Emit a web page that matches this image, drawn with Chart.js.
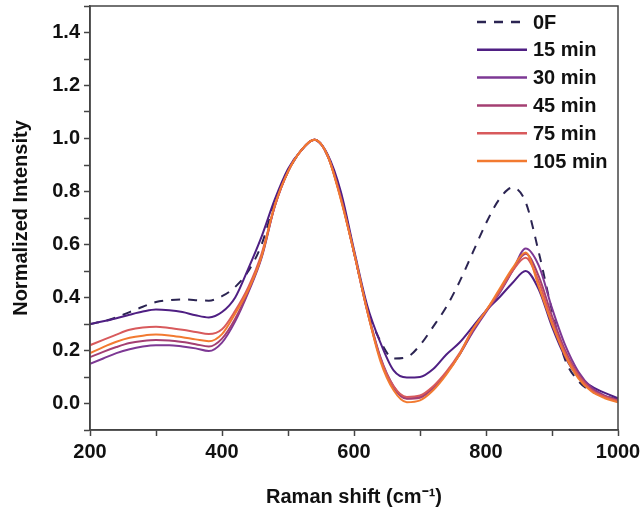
<!DOCTYPE html>
<html>
<head>
<meta charset="utf-8">
<script src="https://cdn.jsdelivr.net/npm/chart.js@4"></script>
<style>
  html, body { margin: 0; padding: 0; background: #fff; }
  #wrap { width: 644px; height: 516px; }
</style>
</head>
<body>
<div id="wrap"><canvas id="raman-chart" width="644" height="516"></canvas></div>
<script>
// Raman shift positions (cm-1), one reading every 20
const shifts = [
  200, 220, 240, 260, 280, 300, 320, 340, 360, 380,
  400, 420, 440, 460, 480, 500, 520, 540, 560, 580,
  600, 620, 640, 660, 680, 700, 720, 740, 760, 780,
  800, 820, 840, 860, 880, 900, 920, 940, 960, 980,
  1000,
];

const labels = ['0F', '15 min', '30 min', '45 min', '75 min', '105 min'];
const colors = ['#2b2452', '#4f1f83', '#7d3894', '#a43f72', '#d85a5c', '#f27a30'];

const int0F = [
  0.30, 0.31, 0.325, 0.345, 0.365, 0.383, 0.39, 0.393, 0.39, 0.388,
  0.405, 0.44, 0.50, 0.60, 0.76, 0.875, 0.955, 0.995, 0.935, 0.79,
  0.57, 0.36, 0.235, 0.17, 0.175, 0.22, 0.29, 0.365, 0.46, 0.57,
  0.68, 0.77, 0.815, 0.76, 0.57, 0.35, 0.165, 0.085, 0.045, 0.028,
  0.015,
];
const int15 = [
  0.30, 0.31, 0.322, 0.335, 0.347, 0.355, 0.352, 0.345, 0.333, 0.325,
  0.345, 0.40, 0.51, 0.63, 0.77, 0.885, 0.955, 0.995, 0.94, 0.80,
  0.58, 0.37, 0.23, 0.125, 0.098, 0.10, 0.13, 0.185, 0.23, 0.29,
  0.35, 0.40, 0.455, 0.50, 0.43, 0.29, 0.175, 0.10, 0.065, 0.04,
  0.02,
];
const int30 = [
  0.15, 0.17, 0.19, 0.205, 0.215, 0.22, 0.22, 0.215, 0.208, 0.198,
  0.23, 0.31, 0.42, 0.55, 0.745, 0.875, 0.955, 0.995, 0.935, 0.78,
  0.57, 0.355, 0.175, 0.065, 0.02, 0.025, 0.06, 0.115, 0.185, 0.27,
  0.345, 0.415, 0.50, 0.585, 0.52, 0.36, 0.22, 0.12, 0.06, 0.03,
  0.012,
];
const int45 = [
  0.175, 0.195, 0.213, 0.228, 0.236, 0.24, 0.238, 0.232, 0.224, 0.215,
  0.245, 0.32, 0.425, 0.555, 0.745, 0.875, 0.955, 0.995, 0.935, 0.775,
  0.57, 0.35, 0.17, 0.06, 0.018, 0.022, 0.058, 0.115, 0.185, 0.275,
  0.35, 0.42, 0.50, 0.565, 0.48, 0.33, 0.20, 0.11, 0.055, 0.028,
  0.012,
];
const int75 = [
  0.22, 0.24, 0.26, 0.278, 0.287, 0.29, 0.285, 0.278, 0.27, 0.262,
  0.28, 0.35, 0.44, 0.565, 0.745, 0.875, 0.955, 0.995, 0.935, 0.775,
  0.57, 0.35, 0.17, 0.065, 0.025, 0.03, 0.065, 0.12, 0.19, 0.28,
  0.35, 0.42, 0.50, 0.55, 0.46, 0.31, 0.19, 0.105, 0.05, 0.025,
  0.01,
];
const int105 = [
  0.19, 0.213, 0.233, 0.248, 0.256, 0.26, 0.257, 0.25, 0.242, 0.235,
  0.262, 0.34, 0.43, 0.555, 0.75, 0.875, 0.955, 0.995, 0.935, 0.77,
  0.57, 0.35, 0.16, 0.05, 0.005, 0.012, 0.05, 0.11, 0.185, 0.28,
  0.35, 0.43, 0.51, 0.57, 0.44, 0.30, 0.18, 0.095, 0.045, 0.02,
  0.005,
];

const series = [int0F, int15, int30, int45, int75, int105];

const datasets = series.map((values, i) => ({
  label: labels[i],
  data: values.map((v, j) => ({ x: shifts[j], y: v })),
  borderColor: colors[i],
  backgroundColor: colors[i],
  borderWidth: 2,
  borderDash: i === 0 ? [9, 8] : [],
  pointRadius: 0,
  cubicInterpolationMode: 'monotone',
  fill: false,
  order: series.length - i,
}));

// frame around the plot + legend inside top right
const frameAndLegend = {
  id: 'frameAndLegend',
  afterDraw(chart) {
    const { ctx, chartArea } = chart;
    ctx.save();
    ctx.strokeStyle = '#444';
    ctx.lineWidth = 1.5;
    ctx.strokeRect(chartArea.left, chartArea.top,
      chartArea.right - chartArea.left, chartArea.bottom - chartArea.top);

    ctx.font = 'bold 20px "Liberation Sans", Arial, sans-serif';
    ctx.textBaseline = 'middle';
    ctx.fillStyle = '#111';
    chart.data.datasets.forEach((ds, i) => {
      const y = 22 + i * 27.8;
      ctx.beginPath();
      ctx.strokeStyle = ds.borderColor;
      ctx.lineWidth = 2.5;
      ctx.setLineDash(i === 0 ? [9, 8] : []);
      ctx.moveTo(477, y);
      ctx.lineTo(527, y);
      ctx.stroke();
      ctx.setLineDash([]);
      ctx.fillText(ds.label, 533, y + 1);
    });
    ctx.restore();
  },
};

const tickFont = { family: '"Liberation Sans", Arial, sans-serif', size: 20, weight: 'bold' };

const ctx = document.getElementById('raman-chart').getContext('2d');

new Chart(ctx, {
  type: 'line',
  data: { datasets },
  options: {
    responsive: false,
    animation: false,
    layout: { padding: { top: 6, right: 26, left: 0, bottom: 0 } },
    plugins: {
      legend: { display: false },
      tooltip: { enabled: false },
    },
    scales: {
      x: {
        type: 'linear',
        min: 200,
        max: 1000,
        afterFit(scale) {
          scale.height = 86;
          scale.paddingLeft = 0;
          scale.paddingRight = 0;
        },
        ticks: {
          stepSize: 100,
          autoSkip: false,
          maxRotation: 0,
          padding: 4,
          color: '#111',
          font: tickFont,
          callback: v => (v % 200 === 0 ? v : ''),
        },
        grid: { drawOnChartArea: false, tickLength: 6, color: '#444', tickWidth: 1.5 },
        border: { color: '#444', width: 1.5 },
        title: {
          display: true,
          text: 'Raman shift (cm⁻¹)',
          color: '#111',
          font: tickFont,
          padding: { top: 0, bottom: 7 },
        },
      },
      y: {
        min: -0.1,
        max: 1.5,
        afterFit(scale) {
          scale.width = 90;
          scale.paddingTop = 0;
          scale.paddingBottom = 0;
        },
        ticks: {
          stepSize: 0.1,
          autoSkip: false,
          padding: 4,
          color: '#111',
          font: tickFont,
          callback: v => (Math.round(v * 10) % 2 === 0 ? v.toFixed(1) : ''),
        },
        grid: { drawOnChartArea: false, tickLength: 6, color: '#444', tickWidth: 1.5 },
        border: { color: '#444', width: 1.5 },
        title: {
          display: true,
          text: 'Normalized Intensity',
          color: '#111',
          font: tickFont,
          padding: { top: 9, bottom: 0 },
        },
      },
    },
  },
  plugins: [frameAndLegend],
});
</script>
</body>
</html>
